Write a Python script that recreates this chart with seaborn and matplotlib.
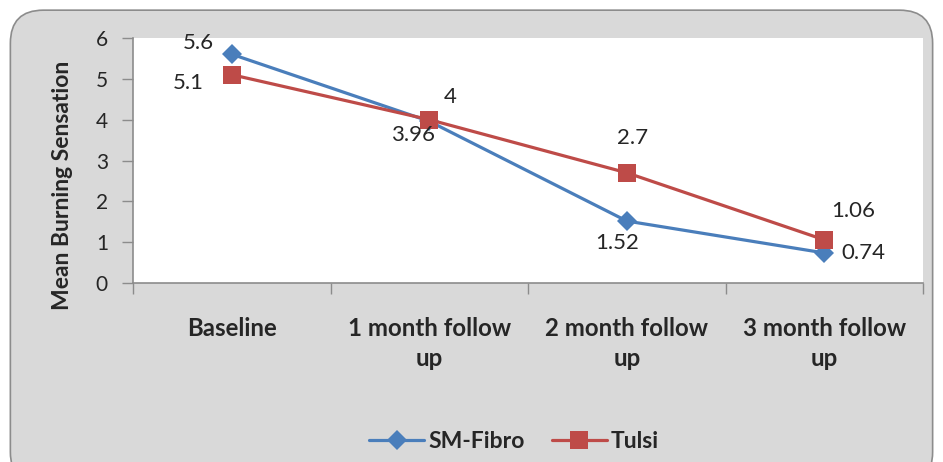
import numpy as np
import pandas as pd
import matplotlib
matplotlib.use("Agg")
import matplotlib.pyplot as plt
import seaborn as sns
from matplotlib.patches import FancyBboxPatch

categories = ["Baseline", "1 month follow\nup", "2 month follow\nup", "3 month follow\nup"]
sm_fibro = [5.6, 3.96, 1.52, 0.74]
tulsi = [5.1, 4.0, 2.7, 1.06]
sm_labels = ["5.6", "3.96", "1.52", "0.74"]
tulsi_labels = ["5.1", "4", "2.7", "1.06"]
yticks = [0, 1, 2, 3, 4, 5, 6]

blue = "#4a7ebb"
red = "#be4b48"

sns.set_style("white")
plt.rcParams["font.family"] = ["Lato", "DejaVu Sans"]

df = pd.DataFrame({
    "pos": list(range(len(categories))) * 2,
    "value": sm_fibro + tulsi,
    "series": ["SM-Fibro"] * len(categories) + ["Tulsi"] * len(categories),
})

fig = plt.figure(figsize=(9.43, 4.62), dpi=100)
fig.patch.set_facecolor("white")

# rounded grey chart frame, drawn behind the axes
frame = FancyBboxPatch((0.011, -0.05), 0.978, 1.028,
                       boxstyle="round,pad=0,rounding_size=0.035",
                       transform=fig.transFigure, facecolor="#d9d9d9",
                       edgecolor="#8c8c8c", linewidth=1.2, zorder=-10,
                       mutation_aspect=943 / 462)
fig.patches.append(frame)

ax = fig.add_axes([0.141, 0.387, 0.838, 0.531])
ax.set_zorder(1)
ax.set_facecolor("white")

sns.lineplot(data=df, x="pos", y="value", hue="series", style="series",
             markers={"SM-Fibro": "D", "Tulsi": "s"}, dashes=False,
             palette={"SM-Fibro": blue, "Tulsi": red},
             markersize=10, linewidth=2.3, markeredgewidth=0, ax=ax)
for line in ax.get_lines():
    if line.get_marker() == "D":
        line.set_markersize(10)
    elif line.get_marker() == "s":
        line.set_markersize(13)

ax.set_xlim(-0.5, len(categories) - 0.5)
ax.set_ylim(0, 6)
ax.set_yticks(yticks)
ax.set_yticklabels([str(v) for v in yticks], fontsize=15)
ax.set_xticks(np.arange(-0.5, len(categories), 1.0))
ax.set_xticklabels([])
for i, c in enumerate(categories):
    ax.annotate(c, (i, 0), xytext=(0, -24), textcoords="offset points",
                ha="center", va="top", fontsize=17.3, fontweight="bold",
                linespacing=1.4, annotation_clip=False)

ax.set_xlabel("")
ax.set_ylabel("Mean Burning Sensation", fontsize=16.5, fontweight="bold")
ax.yaxis.set_label_coords(-0.076, 0.40)

for side in ["top", "right"]:
    ax.spines[side].set_visible(False)
for side in ["left", "bottom"]:
    ax.spines[side].set_color("#8c8c8c")
    ax.spines[side].set_linewidth(1.2)
ax.tick_params(axis="both", which="both", direction="out", length=8,
               color="#8c8c8c", width=1.0, left=True, bottom=True)
ax.tick_params(axis="y", pad=10)

# data labels
sm_off = [(-24, 8), (-12, -10), (-7, -16), (28, 0)]
tu_off = [(-31, -6), (15, 16), (4, 25), (21, 21)]
for i in range(len(categories)):
    ax.annotate(sm_labels[i], (i, sm_fibro[i]), xytext=sm_off[i],
                textcoords="offset points", ha="center", va="center", fontsize=16)
    ax.annotate(tulsi_labels[i], (i, tulsi[i]), xytext=tu_off[i],
                textcoords="offset points", ha="center", va="center", fontsize=16)

handles, labels = ax.get_legend_handles_labels()
ax.get_legend().remove()
leg = fig.legend(handles, labels, loc="center", bbox_to_anchor=(0.545, 0.045),
                 ncol=2, frameon=False, handlelength=2.4, columnspacing=1.2,
                 handletextpad=0.15, prop={"size": 16.5, "weight": "bold"})

fig.savefig("out.png", dpi=100, facecolor=fig.get_facecolor())
